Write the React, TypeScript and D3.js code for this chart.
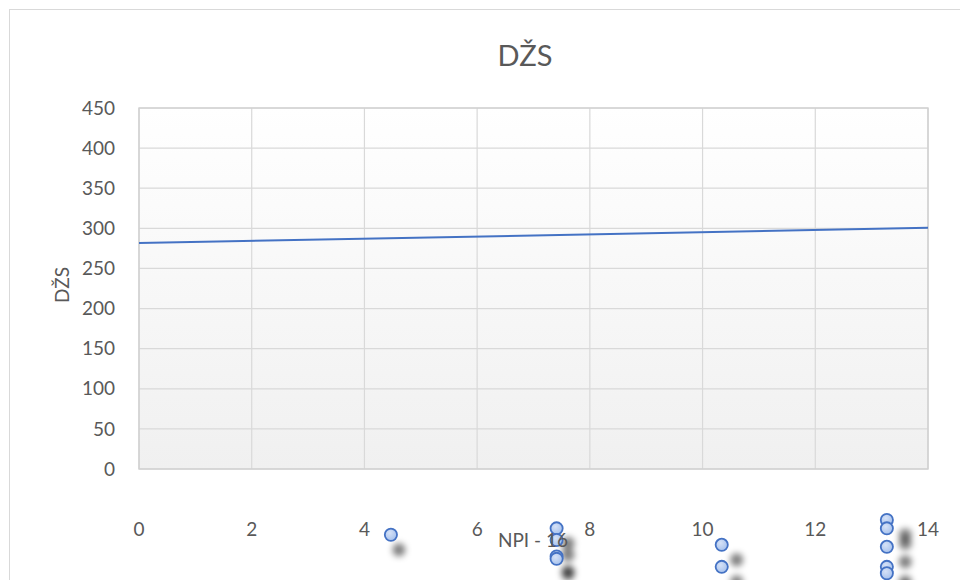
import React from "react";
import * as d3 from "d3";

const xTicks = [0, 2, 4, 6, 8, 10, 12, 14];
const yTicks = [0, 50, 100, 150, 200, 250, 300, 350, 400, 450];
const pointX = [4.47, 7.41, 7.41, 7.41, 7.41, 10.34, 10.34, 13.27, 13.27, 13.27, 13.27, 13.27];
const pointY = [-82, -74, -88.5, -109, -112, -94.5, -122, -63.5, -74, -97, -122, -130];
const trendX = [0, 14];
const trendY = [281.7, 300.6];
const title = "DŽS";
const xTitle = "NPI - 16";
const yTitle = "DŽS";

const W = 960, H = 580;
const plot = { left: 139, right: 928, top: 108, bottom: 469 };
const FONT = "Lato, 'Open Sans', sans-serif";
const TXT = "#595959";

export default function App() {
  const x = d3.scaleLinear().domain([0, 14]).range([plot.left, plot.right]);
  const y = d3.scaleLinear().domain([0, 450]).range([plot.bottom, plot.top]);
  const line = d3.line<number>().x((d) => x(trendX[d])).y((d) => y(trendY[d]));
  const pts = pointX.map((v, i) => ({ cx: x(v), cy: y(pointY[i]) }));

  return (
    <svg width={W} height={H} style={{ position: "fixed", left: 0, top: 0, background: "#fff" }}>
      <defs>
        <linearGradient id="plotBg" x1="0" y1="0" x2="0" y2="1">
          <stop offset="0" stopColor="#ffffff" />
          <stop offset="1" stopColor="#f0f0f0" />
        </linearGradient>
        <radialGradient id="mk" cx="0.4" cy="0.35" r="0.7">
          <stop offset="0" stopColor="#d6e2f7" />
          <stop offset="1" stopColor="#a3bfec" />
        </radialGradient>
        <filter id="blur" x="-2" y="-2" width="5" height="5">
          <feGaussianBlur stdDeviation="3.4" />
        </filter>
      </defs>
      <rect x={9.5} y={9.5} width={1100} height={1000} fill="#fff" stroke="#d9d9d9" strokeWidth={1} />
      <text x={525} y={66} textAnchor="middle" fontFamily={FONT} fontSize={29} fill={TXT}>{title}</text>
      <rect x={plot.left} y={plot.top} width={plot.right - plot.left} height={plot.bottom - plot.top} fill="url(#plotBg)" />
      {yTicks.map((t) => (
        <line key={"gy" + t} x1={plot.left} x2={plot.right} y1={y(t)} y2={y(t)} stroke="#d9d9d9" strokeWidth={1.2} />
      ))}
      {xTicks.map((t) => (
        <line key={"gx" + t} x1={x(t)} x2={x(t)} y1={plot.top} y2={plot.bottom} stroke="#d9d9d9" strokeWidth={1.2} />
      ))}
      <rect x={plot.left} y={plot.top} width={plot.right - plot.left} height={plot.bottom - plot.top} fill="none" stroke="#d0d0d0" strokeWidth={1.4} />
      {yTicks.map((t) => (
        <text key={"ty" + t} x={115} y={y(t)} dy="0.35em" textAnchor="end" fontFamily={FONT} fontSize={19} fill={TXT}>{t}</text>
      ))}
      {xTicks.map((t) => (
        <text key={"tx" + t} x={x(t)} y={529} dy="0.35em" textAnchor="middle" fontFamily={FONT} fontSize={19} fill={TXT}>{t}</text>
      ))}
      <path d={line([0, 1]) || ""} fill="none" stroke="#4472c4" strokeWidth={2} />
      <g filter="url(#blur)">
        {pts.map((p, i) => (
          <circle key={"s" + i} cx={p.cx + 8 + (p.cx - 391) * 0.021} cy={p.cy + 15} r={6.5} fill="#000" fillOpacity={0.5} />
        ))}
      </g>
      {pts.map((p, i) => (
        <circle key={"p" + i} cx={p.cx} cy={p.cy} r={6.1} fill="url(#mk)" stroke="#4472c4" strokeWidth={1.8} />
      ))}
      <text x={533} y={540} dy="0.35em" textAnchor="middle" fontFamily={FONT} fontSize={19} fill={TXT}>{xTitle}</text>
      <text transform="translate(62,285) rotate(-90)" dy="0.35em" textAnchor="middle" fontFamily={FONT} fontSize={19} fill={TXT}>{yTitle}</text>
    </svg>
  );
}
